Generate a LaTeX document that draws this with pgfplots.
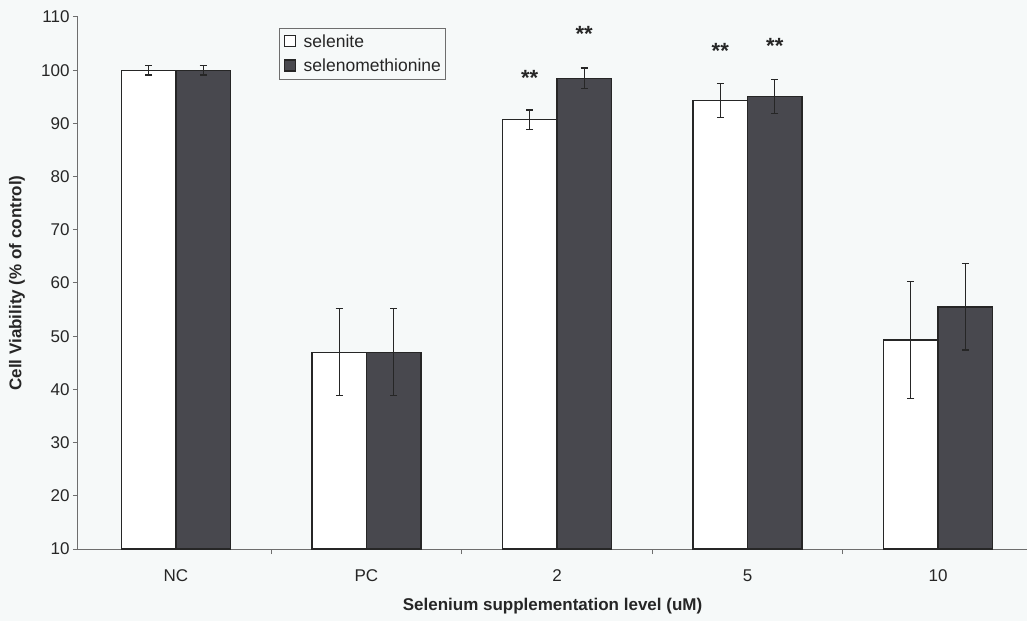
\documentclass[border=0pt]{standalone}
\usepackage{pgfplots}
\pgfplotsset{compat=1.18}
\usepackage{fontspec}
\setmainfont{Liberation Sans}
\definecolor{bg}{RGB}{246,249,249}
\definecolor{darkbar}{RGB}{72,72,78}
\definecolor{axisgray}{RGB}{110,110,110}
\begin{document}
\begin{tikzpicture}
\path[use as bounding box, fill=bg] (-78pt,-72pt) rectangle (949pt,549pt);
\begin{axis}[
  at={(0pt,0pt)}, anchor=south west,
  scale only axis, width=949pt, height=532pt,
  xmin=-0.514, xmax=4.467, ymin=10, ymax=110,
  axis x line*=bottom, axis y line*=left,
  axis line style={axisgray, line width=1pt, -},
  ytick={10,20,...,110},
  xtick={0,1,2,3,4},
  xticklabels={NC,PC,2,5,10},
  major x tick style={draw=none},
  minor xtick={0.5,1.5,2.5,3.5},
  minor tick length=5pt,
  major tick length=5pt,
  tick align=outside,
  tick style={axisgray, line width=1pt},
  /pgf/number format/assume math mode=true,
  ticklabel style={font=\fontsize{17}{20}\selectfont, text=black!85},
  xticklabel style={yshift=-12pt},
  ylabel={\textbf{Cell Viability (\% of control)}},
  xlabel={\textbf{Selenium supplementation level (uM)}},
  every axis y label/.style={at={(axis description cs:-0.0643,0.5)}, rotate=90, anchor=center,
    font=\fontsize{17}{20}\selectfont, text=black!85},
  every axis x label/.style={at={(axis description cs:0.5,-0.107)}, anchor=center,
    font=\fontsize{17}{20}\selectfont, text=black!85},
  ybar=0pt, bar width=54.5pt,
  legend style={at={(rel axis cs:0.2118,0.979)}, anchor=north west,
    draw=axisgray, line width=1pt, fill=bg,
    font=\fontsize{17.5}{20}\selectfont, text=black!85,
    inner xsep=4pt, inner ysep=5pt, row sep=8pt,
    nodes={inner sep=1pt},
    /tikz/every odd column/.append style={column sep=7pt}},
  legend cell align=left,
  legend image code/.code={\draw[#1, line width=1.2pt] (0pt,-5pt) rectangle (11pt,6pt);},
  error bars/error bar style={black!85, line width=1.2pt},
  error bars/error mark options={black!85, line width=1.2pt, mark size=3.5pt, rotate=90},
]
\addplot[draw=black!85, fill=white, line width=1.2pt,
  error bars/.cd, y dir=both, y explicit]
  coordinates {(0,100) +- (0,0.9) (1,47.0) +- (0,8.2) (2,90.7) +- (0,1.8) (3,94.3) +- (0,3.2) (4,49.3) +- (0,11.0)};
\addplot[draw=black!85, fill=darkbar, line width=1.2pt,
  error bars/.cd, y dir=both, y explicit]
  coordinates {(0,100) +- (0,0.9) (1,47.0) +- (0,8.2) (2,98.5) +- (0,1.9) (3,95.0) +- (0,3.2) (4,55.5) +- (0,8.1)};
\legend{selenite,selenomethionine}
\node[anchor=base, font=\bfseries\fontsize{22}{24}\selectfont, text=black!85] at (axis cs:1.857,97.2) {**};
\node[anchor=base, font=\bfseries\fontsize{22}{24}\selectfont, text=black!85] at (axis cs:2.143,105.3) {**};
\node[anchor=base, font=\bfseries\fontsize{22}{24}\selectfont, text=black!85] at (axis cs:2.857,102.2) {**};
\node[anchor=base, font=\bfseries\fontsize{22}{24}\selectfont, text=black!85] at (axis cs:3.143,103.2) {**};
\end{axis}
\end{tikzpicture}
\end{document}
